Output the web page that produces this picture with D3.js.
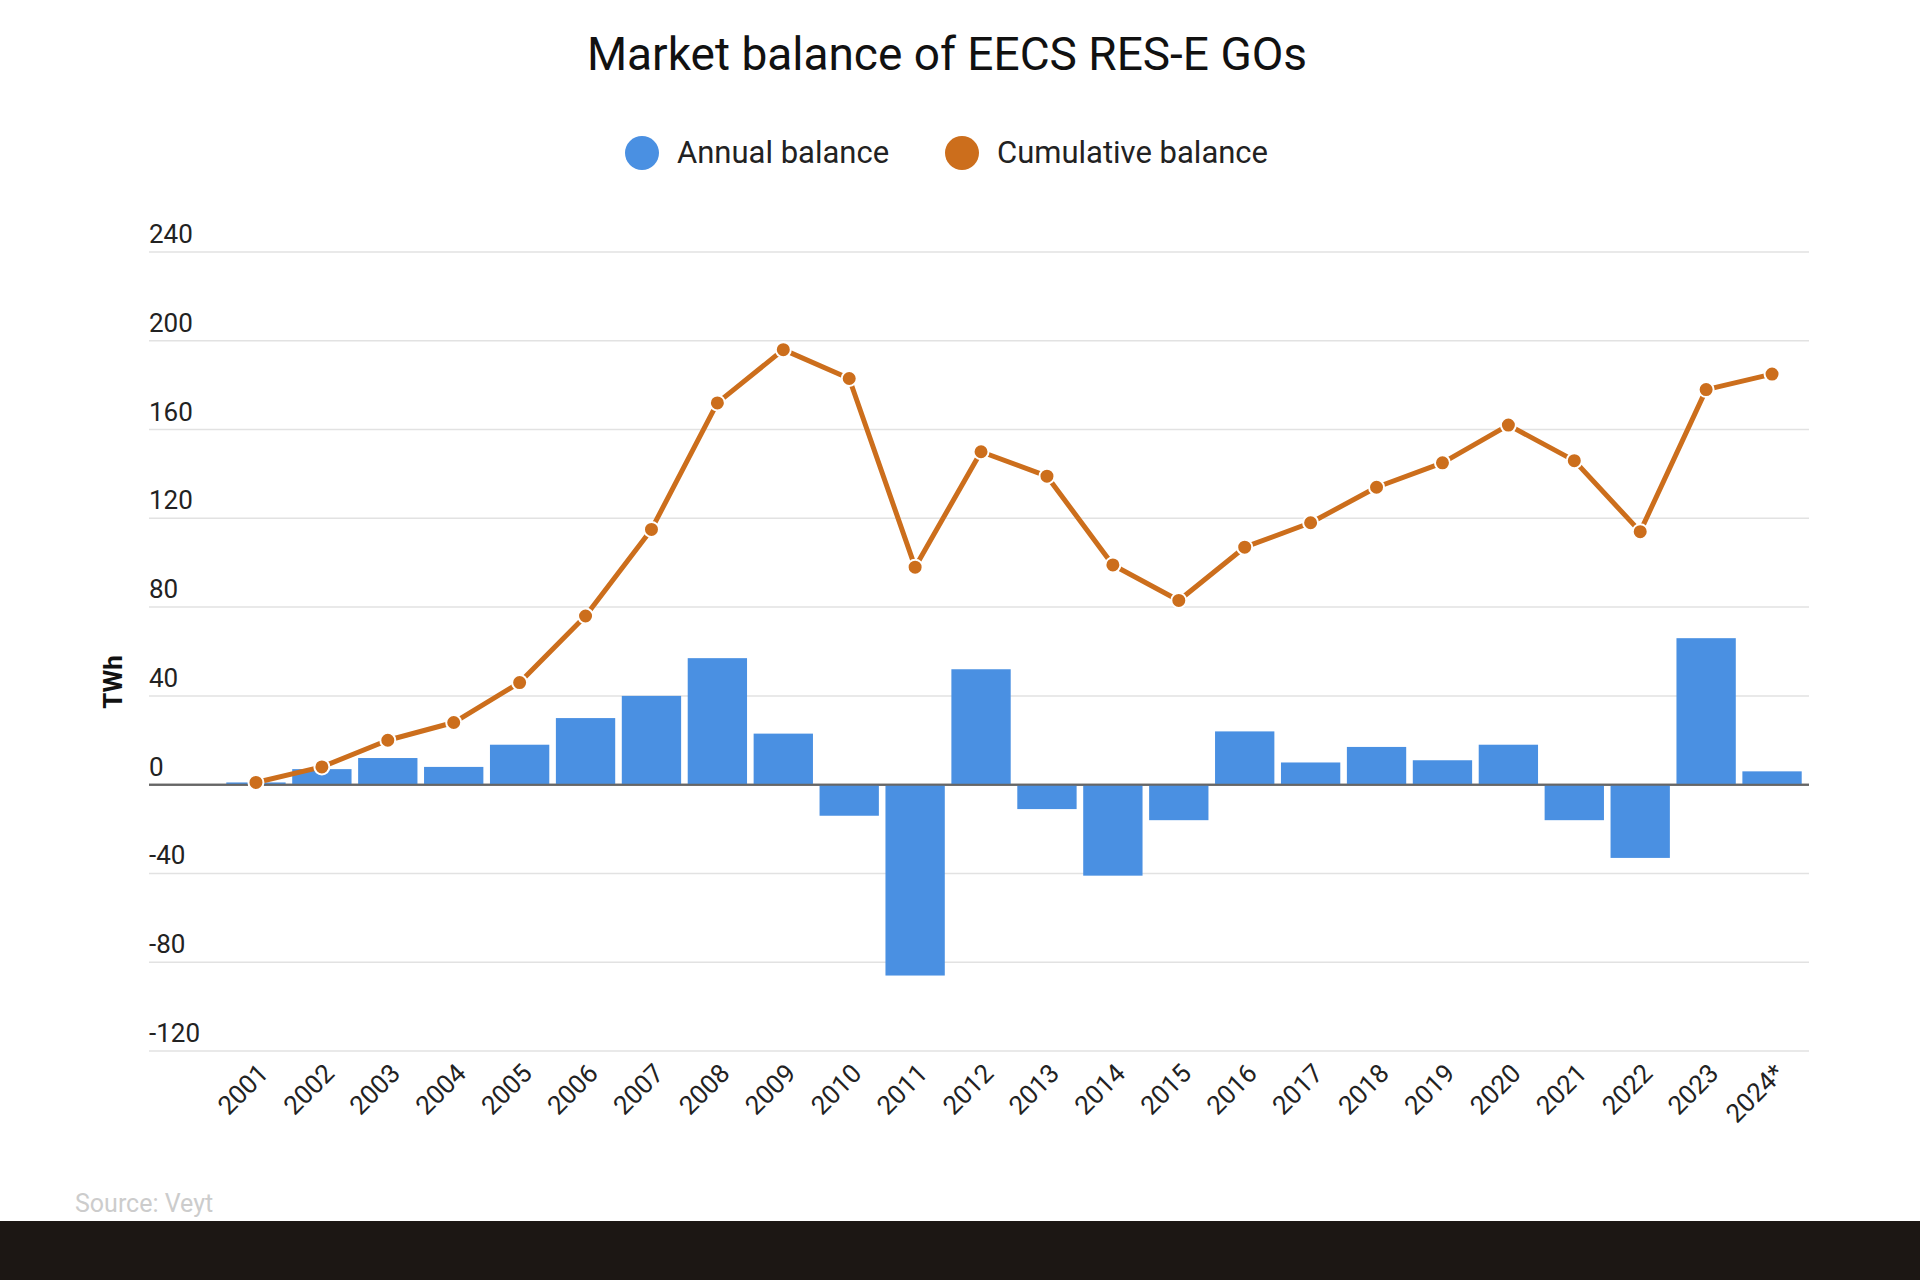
<!DOCTYPE html>
<html><head><meta charset="utf-8">
<script src="https://cdn.jsdelivr.net/npm/d3@7"></script>
<style>body{margin:0;background:#fff;}text{font-family:Roboto,sans-serif;}</style>
</head><body>
<svg id="c" width="1920" height="1280"></svg>
<script>
const years = ["2001","2002","2003","2004","2005","2006","2007","2008","2009","2010","2011","2012","2013","2014","2015","2016","2017","2018","2019","2020","2021","2022","2023","2024*"];
const annual = [1,7,12,8,18,30,40,57,23,-14,-86,52,-11,-41,-16,24,10,17,11,18,-16,-33,66,6];
const cumulative = [1,8,20,28,46,76,115,172,196,183,98,150,139,99,83,107,118,134,145,162,146,114,178,185];
const yTicks = [-120,-80,-40,0,40,80,120,160,200,240];

const svg = d3.select("#c");
const barColor = "#4a90e2", lineColor = "#cc6e1c";
const x = d3.scaleBand().domain(years).range([223,1805]).paddingInner(0.1).paddingOuter(0.05);
const y = d3.scaleLinear().domain([-120,240]).range([1051,252]);
const gl = 149, gr = 1809;

svg.append("text").attr("x",947).attr("y",70).attr("text-anchor","middle")
  .attr("font-size",46).attr("fill","#111").text("Market balance of EECS RES-E GOs");

// legend
const leg = [{t:"Annual balance",c:barColor,x:642},{t:"Cumulative balance",c:lineColor,x:962}];
leg.forEach(l=>{
  svg.append("circle").attr("cx",l.x).attr("cy",153).attr("r",17).attr("fill",l.c);
  svg.append("text").attr("x",l.x+35).attr("y",163).attr("font-size",31).attr("fill","#222").text(l.t);
});

// grid
yTicks.forEach(t=>{
  svg.append("line").attr("x1",gl).attr("x2",gr).attr("y1",y(t)).attr("y2",y(t))
    .attr("stroke",t===0?"#666":"#e2e2e2").attr("stroke-width",t===0?2:1.5);
  svg.append("text").attr("x",gl).attr("y",y(t)-9).attr("font-size",26).attr("fill","#222").text(t);
});

svg.append("text").attr("transform","translate(122,682) rotate(-90)").attr("text-anchor","middle")
  .attr("font-size",26).attr("font-weight","bold").attr("fill","#111").text("TWh");

// bars
svg.selectAll("rect.b").data(years).enter().append("rect")
  .attr("x",d=>x(d)).attr("width",x.bandwidth())
  .attr("y",(d,i)=>y(Math.max(0,annual[i])))
  .attr("height",(d,i)=>Math.abs(y(annual[i])-y(0)))
  .attr("fill",barColor);
svg.append("line").attr("x1",gl).attr("x2",gr).attr("y1",y(0)).attr("y2",y(0)).attr("stroke","#666").attr("stroke-width",2);

// line
const cx = d=>x(d)+x.bandwidth()/2;
svg.append("path").datum(years).attr("fill","none").attr("stroke",lineColor).attr("stroke-width",5)
  .attr("stroke-linejoin","round")
  .attr("d",d3.line().x(cx).y((d,i)=>y(cumulative[i])));
svg.selectAll("circle.p").data(years).enter().append("circle")
  .attr("cx",cx).attr("cy",(d,i)=>y(cumulative[i])).attr("r",7.5)
  .attr("fill",lineColor).attr("stroke","#fff").attr("stroke-width",2);

// x labels
years.forEach(d=>{
  svg.append("text").attr("transform",`translate(${cx(d)+14},${1075}) rotate(-45)`)
    .attr("text-anchor","end").attr("font-size",26).attr("fill","#222").text(d);
});

svg.append("text").attr("x",75).attr("y",1212).attr("font-size",25).attr("fill","#ccc").text("Source: Veyt");
svg.append("rect").attr("x",0).attr("y",1221).attr("width",1920).attr("height",59).attr("fill","#1c1714");
</script>
</body></html>
